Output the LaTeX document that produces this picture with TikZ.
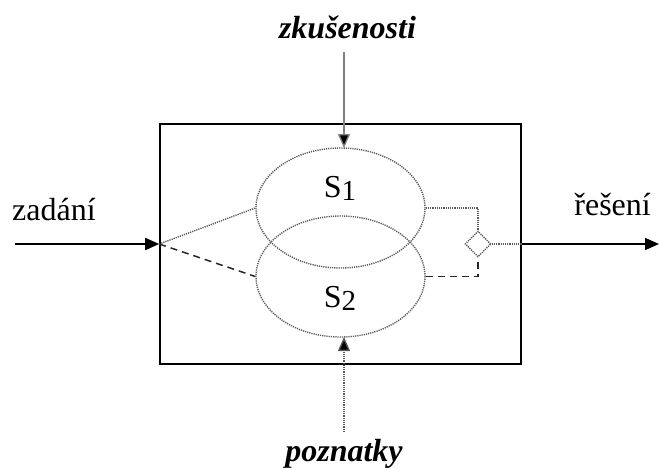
\documentclass[tikz,border=0pt]{standalone}
\usepackage{fontspec}
\setmainfont{Liberation Serif}
\usetikzlibrary{arrows.meta,shapes.geometric}
\begin{document}
\begin{tikzpicture}[x=1pt,y=-1pt,
  lbl/.style={font=\fontsize{32}{34}\selectfont, inner sep=0pt},
  ilbl/.style={font=\fontsize{32}{34}\selectfont\bfseries\itshape, inner sep=0pt},
  dotl/.style={draw=black!65, line width=1.4pt, dash pattern=on 1.2pt off 1pt},
  dashl/.style={draw=black!85, line width=1.5pt, dash pattern=on 7pt off 5pt},
  tip/.style={-{Triangle[length=14pt,width=12pt,fill=black]}},
  arr/.style={line width=1.6pt, tip},
  garr/.style={draw=black!50, line width=1.3pt, tip}
]
\useasboundingbox (0,0) rectangle (659,469);
\node[draw, line width=1.6pt, minimum width=361pt, minimum height=240pt, inner sep=0] (box) at (340.5,244) {};
\node[ellipse, dotl, minimum width=169pt, minimum height=120pt, inner sep=0] (s1) at (340.5,208) {};
\node[ellipse, dotl, minimum width=169pt, minimum height=121pt, inner sep=0] (s2) at (340.5,276.5) {};
\node[lbl] (t1) at (340,188) {S\raisebox{-3pt}{\fontsize{29}{30}\selectfont 1}};
\node[lbl] (t2) at (340,298) {S\raisebox{-3pt}{\fontsize{29}{30}\selectfont 2}};
\node[diamond, dotl, minimum size=26pt, inner sep=0] (d) at (478,244) {};
\node[lbl, anchor=base west] (zad) at (12,220) {zadání};
\node[lbl, anchor=base east] (res) at (651,215) {řešení};
\node[ilbl, anchor=base] (zk) at (347.5,38) {zkušenosti};
\node[ilbl, anchor=base] (po) at (344,461) {poznatky};
\coordinate (in) at (15,244);
\coordinate (out) at (659,244);
\coordinate (ztop) at (344,52);
\coordinate (zbot) at (344,148);
\coordinate (ptop) at (344,337);
\coordinate (pbot) at (344,432);
\draw[arr] (in) -- (box.west);
\draw[arr] (box.east) -- (out);
\draw[garr] (ztop) -- (zbot);
\draw[dotl, tip] (pbot) -- (ptop);
\draw[dotl] (box.west) -- (s1.west);
\draw[dashl] (box.west) -- (s2.west);
\draw[dotl] (s1.east) -| (d.north);
\draw[dashl] (s2.east) -| (d.south);
\draw[dotl] (d.east) -- (box.east);
\end{tikzpicture}
\end{document}
